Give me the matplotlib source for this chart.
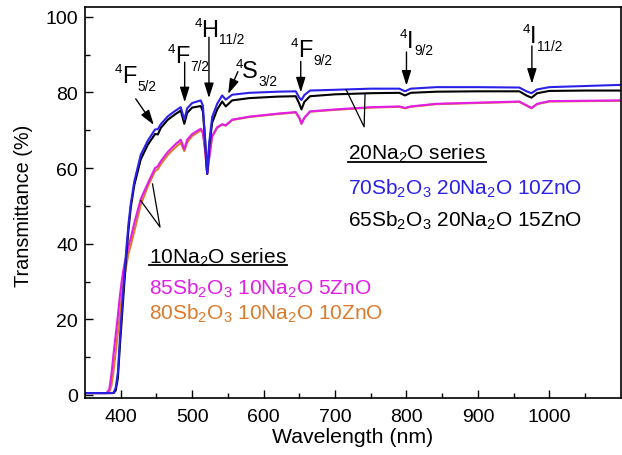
import matplotlib
matplotlib.use('Agg')
import matplotlib.pyplot as plt
from matplotlib.lines import Line2D

plt.rcParams['font.family'] = ['Liberation Sans', 'DejaVu Sans']
plt.rcParams['mathtext.fontset'] = 'custom'
plt.rcParams['mathtext.rm'] = 'Liberation Sans'
plt.rcParams['mathtext.default'] = 'regular'

# ---------------- data ----------------
wavelength = [350, 380, 384, 387, 390, 393, 396, 399, 402, 405, 408, 411, 414, 419,
              428, 438, 448, 452, 456, 466, 476, 484, 489, 493, 500, 512, 515, 518,
              521, 524, 528, 535, 542, 547, 556, 580, 620, 645, 650, 653, 657, 665,
              700, 750, 790, 798, 806, 842, 900, 958, 968, 975, 983, 1000, 1050, 1100]

t_70sb_20na_10zn = [0.5, 0.5, 0.5, 0.5, 0.6, 2.0, 6.0, 15.5, 23.5, 31.5, 39.0, 45.5, 50.5, 56.5,
                    63.5, 67.3, 70.2, 70.3, 71.6, 73.7, 75.1, 76.1, 72.8, 75.8, 77.2, 77.9, 76.5, 68.0,
                    58.5, 67.0, 73.5, 77.0, 79.2, 78.1, 79.4, 79.9, 80.2, 80.3, 78.6, 78.0, 79.3, 80.5,
                    80.7, 81.0, 81.0, 80.3, 81.0, 81.4, 81.4, 81.3, 80.3, 79.8, 80.8, 81.4, 81.7, 82.0]

t_65sb_20na_15zn = [0.5, 0.5, 0.5, 0.5, 0.5, 1.2, 4.5, 13.5, 21.5, 29.5, 37.5, 44.0, 49.5, 55.5,
                    62.3, 66.2, 69.0, 68.9, 70.6, 72.8, 74.2, 75.2, 71.7, 74.6, 76.0, 76.4, 75.0, 67.5,
                    58.5, 66.0, 72.0, 75.5, 77.6, 76.3, 77.9, 78.5, 78.9, 79.0, 77.0, 75.5, 77.5, 79.0,
                    79.5, 79.8, 79.9, 79.2, 79.9, 80.2, 80.3, 80.3, 79.2, 78.6, 79.8, 80.4, 80.5, 80.5]

t_85sb_10na_5zn = [0.5, 0.5, 1.5, 5.5, 11.0, 16.0, 21.0, 26.5, 31.0, 34.5, 37.0, 39.5, 41.5, 45.5,
                   51.8, 56.0, 60.0, 60.5, 61.8, 64.3, 66.2, 67.5, 65.0, 67.5, 69.0, 70.4, 69.5, 65.0,
                   58.5, 63.0, 68.5, 70.8, 71.6, 71.3, 72.8, 73.6, 74.4, 74.8, 73.3, 71.8, 73.3, 75.0,
                   75.5, 76.1, 76.3, 75.9, 76.3, 77.0, 77.3, 77.6, 76.6, 75.9, 77.0, 77.7, 77.8, 77.9]

t_80sb_10na_10zn = [0.5, 0.5, 0.8, 2.5, 6.5, 11.5, 16.5, 21.5, 27.0, 31.0, 34.5, 37.5, 39.5, 43.3,
                    50.3, 55.2, 59.2, 59.7, 61.0, 63.5, 65.4, 66.7, 64.5, 66.8, 68.5, 70.0, 69.2, 65.0,
                    58.5, 63.0, 68.3, 70.6, 71.5, 71.2, 72.7, 73.5, 74.3, 74.7, 73.2, 71.7, 73.2, 74.9,
                    75.4, 76.0, 76.2, 75.8, 76.2, 76.9, 77.2, 77.5, 76.5, 75.8, 76.9, 77.6, 77.7, 77.8]

series_names = ['80Sb$_2$O$_3$ 10Na$_2$O 10ZnO', '85Sb$_2$O$_3$ 10Na$_2$O 5ZnO',
                '65Sb$_2$O$_3$ 20Na$_2$O 15ZnO', '70Sb$_2$O$_3$ 20Na$_2$O 10ZnO']
series_values = [t_80sb_10na_10zn, t_85sb_10na_5zn, t_65sb_20na_15zn, t_70sb_20na_10zn]
series_colors = ['#dc7a2c', '#e21ee6', '#000000', '#2b20e8']

# transitions: (letter, J subscript)
transition_letters = ['F', 'F', 'H', 'S', 'F', 'I', 'I']
transition_subs = ['5/2', '7/2', '11/2', '3/2', '9/2', '9/2', '11/2']

x_ticks = [400, 500, 600, 700, 800, 900, 1000]
y_ticks = [0, 20, 40, 60, 80, 100]

# ---------------- figure ----------------
fig = plt.figure(figsize=(6.22, 4.56), dpi=100)
ax = fig.add_axes([0.1367, 0.125, 0.8613, 0.8575])

for vals, col in zip(series_values, series_colors):
    ax.plot(wavelength, vals, color=col, lw=1.5, solid_joinstyle='round')

ax.set_xlim(350, 1100)
ax.set_ylim(-0.8, 102.6)
ax.set_xticks(x_ticks)
ax.set_xticks([450, 550, 650, 750, 850, 950, 1050], minor=True)
ax.set_yticks(y_ticks)
ax.set_yticks([10, 30, 50, 70, 90], minor=True)
ax.tick_params(which='major', direction='in', length=6, width=1.0, labelsize=14)
ax.tick_params(axis='x', which='major', pad=7)
ax.tick_params(axis='y', which='major', pad=5)
ax.tick_params(which='minor', direction='in', length=3.5, width=1.0)
for s in ax.spines.values():
    s.set_linewidth(1.2)
ax.set_xlabel('Wavelength (nm)', fontsize=15.3)
ax.set_ylabel('Transmittance (%)', fontsize=14.3)
ax.xaxis.set_label_coords(0.5, -0.075)
ax.yaxis.set_label_coords(-0.097, 0.494)

# ---------------- transition annotations ----------------
arrow_kw = dict(arrowstyle='-|>,head_length=0.7,head_width=0.22', color='k', lw=1.0,
                shrinkA=0, shrinkB=0, mutation_scale=13)
# (label left/baseline, arrow tail, arrow tip)
ann = [((391.5, 82.8), (421.0, 78.3), (446.3, 71.4)),
       ((466.0, 88.1), (489.5, 88.0), (489.5, 77.4)),
       ((503.3, 95.0), (523.5, 94.6), (523.5, 78.5)),
       ((560.4, 84.1), (564.0, 85.5), (550.4, 79.6)),
       ((638.2, 89.7), (652.0, 88.2), (652.0, 80.0)),
       ((791.0, 92.1), (800.0, 90.7), (800.0, 81.8)),
       ((963.0, 93.4), (975.6, 92.3), (975.6, 82.3))]

fig.canvas.draw()
r = fig.canvas.get_renderer()
px2pt = 72.0 / fig.dpi


def width_pt(t):
    return t.get_window_extent(renderer=r).width * px2pt


for letter, sub, (pos, tail, tip) in zip(transition_letters, transition_subs, ann):
    t1 = ax.annotate('4', pos, xytext=(0, 7.2), textcoords='offset points',
                     fontsize=9.5, ha='left', va='baseline')
    w1 = width_pt(t1)
    t2 = ax.annotate(letter, pos, xytext=(w1 - 0.3, 0), textcoords='offset points',
                     fontsize=17, ha='left', va='baseline')
    w2 = width_pt(t2)
    ax.annotate(sub, pos, xytext=(w1 + w2 + 0.4, -5.6), textcoords='offset points',
                fontsize=9.8, ha='left', va='baseline')
    ax.annotate('', xy=tip, xytext=tail, arrowprops=arrow_kw)

# ---------------- series legends ----------------
ax.plot([715.6, 740.7, 742.0], [80.7, 70.9, 79.4], color='k', lw=0.9)
ax.plot([428.0, 455.0, 444.5], [51.4, 44.4, 55.8], color='k', lw=0.9)

fs = 15
h20 = ax.text(718.4, 62.4, '20Na$_2$O series', fontsize=fs, ha='left', va='baseline')
ax.text(718.4, 53.2, series_names[3], fontsize=fs, color=series_colors[3], ha='left', va='baseline')
ax.text(718.4, 44.8, series_names[2], fontsize=fs, color=series_colors[2], ha='left', va='baseline')
h10 = ax.text(439.5, 35.1, '10Na$_2$O series', fontsize=fs, ha='left', va='baseline')
ax.text(439.5, 26.7, series_names[1], fontsize=fs, color=series_colors[1], ha='left', va='baseline')
ax.text(439.5, 20.3, series_names[0], fontsize=fs, color=series_colors[0], ha='left', va='baseline')

# underline headers
fig.canvas.draw()
inv = fig.transFigure.inverted()
for t in (h20, h10):
    bb = t.get_window_extent(renderer=r)
    yb = ax.transData.transform(t.get_position())[1] - 2.5
    p0 = inv.transform((bb.x0, yb))
    p1 = inv.transform((bb.x1, yb))
    fig.add_artist(Line2D([p0[0], p1[0]], [p0[1], p1[1]], transform=fig.transFigure,
                          color='k', lw=1.3))

fig.savefig('out.png', dpi=100)
